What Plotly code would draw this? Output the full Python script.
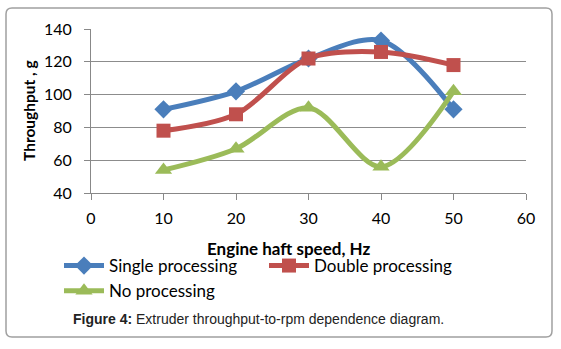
import plotly.graph_objects as go

speed = [10, 20, 30, 40, 50]
single = [91, 102, 122, 133, 91]
double = [78, 88, 122, 126, 118]
none_ = [54, 67, 92, 56, 102]

L, R, T, B = 91, 526, 29, 193
W, H = 561, 349
def px(x): return (x - L) / (R - L)
def py(y): return (B - y) / (B - T)

fig = go.Figure()
series = [
    ("Single processing", single, "#4A7EBB", "diamond", 14),
    ("Double processing", double, "#C0504D", "square", 14),
    ("No processing", none_, "#9BBB59", "triangle-up", 15),
]
for name, ys, col, sym, sz in series:
    fig.add_trace(go.Scatter(
        x=speed, y=ys, name=name, mode="lines+markers",
        line=dict(color=col, width=5, shape="spline", smoothing=0.9),
        marker=dict(symbol=sym, size=sz, color=col),
    ))

font = "Lato, 'Open Sans', sans-serif"
fig.update_layout(
    width=W, height=H,
    margin=dict(l=L, r=W - R, t=T, b=H - B),
    plot_bgcolor="white", paper_bgcolor="white",
    showlegend=True,
    legend=dict(orientation="h", x=px(59), y=py(248), xanchor="left", yanchor="top",
                entrywidth=150, entrywidthmode="pixels",
                font=dict(family=font, size=17, color="black"),
                itemwidth=40, tracegroupgap=0, bgcolor="rgba(0,0,0,0)"),
    xaxis=dict(range=[0, 60], dtick=10, showgrid=False, showline=True, linecolor="#888",
               linewidth=1, ticks="outside", ticklen=6, tickcolor="#888",
               ticklabelstandoff=5,
               tickfont=dict(family=font, size=16, color="black"), zeroline=False),
    yaxis=dict(range=[40, 140], dtick=20, showgrid=True, gridcolor="#8c8c8c", gridwidth=1,
               showline=True, linecolor="#888", linewidth=1, ticks="outside", ticklen=6,
               ticklabelstandoff=9,
               tickcolor="#888", tickfont=dict(family=font, size=16, color="black"),
               zeroline=False),
)

fig.add_annotation(text="<b>Throughput , g</b>", xref="paper", yref="paper",
                   x=px(29), y=0.5, textangle=-90, showarrow=False,
                   xanchor="center", yanchor="middle",
                   font=dict(family=font, size=15.5, color="black"))
fig.add_annotation(text="<b>Engine haft speed, Hz</b>", xref="paper", yref="paper",
                   x=px(288), y=py(248), showarrow=False, xanchor="center", yanchor="middle",
                   font=dict(family=font, size=17, color="black"))
fig.add_annotation(text="<b>Figure 4:</b> Extruder throughput-to-rpm dependence diagram.",
                   xref="paper", yref="paper", x=px(258), y=py(319), showarrow=False,
                   xanchor="center", yanchor="middle",
                   font=dict(family="'Liberation Sans', Arial, sans-serif", size=14, color="#222"))

# rounded outer frame
x0, x1, y0, y1, r = 6, 552, 8, 337, 6
def P(x, y): return f"{px(x):.5f},{py(y):.5f}"
path = (f"M {P(x0 + r, y0)} L {P(x1 - r, y0)} Q {P(x1, y0)} {P(x1, y0 + r)} "
        f"L {P(x1, y1 - r)} Q {P(x1, y1)} {P(x1 - r, y1)} L {P(x0 + r, y1)} "
        f"Q {P(x0, y1)} {P(x0, y1 - r)} L {P(x0, y0 + r)} Q {P(x0, y0)} {P(x0 + r, y0)} Z")
fig.add_shape(type="path", xref="paper", yref="paper", path=path,
              line=dict(color="#a0a0a0", width=1.5), layer="below")

fig.write_html("out.html")
